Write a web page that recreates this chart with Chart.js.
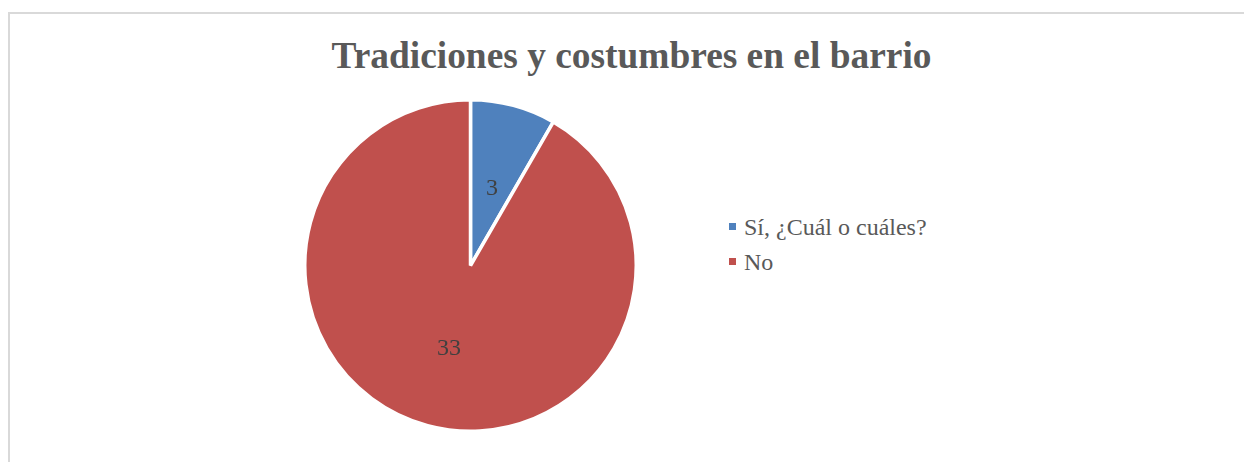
<!DOCTYPE html>
<html>
<head>
<meta charset="utf-8">
<script src="https://cdn.jsdelivr.net/npm/chart.js@4.4.1/dist/chart.umd.min.js"></script>
<style>
  html, body { margin: 0; padding: 0; background: #ffffff; }
  body { width: 1244px; height: 462px; position: relative; overflow: hidden; }
  #frame { position: absolute; left: 8px; top: 12px; width: 1300px; height: 500px; border: 2px solid #d9d9d9; box-sizing: border-box; }
  #title { position: absolute; left: 0; top: 37.2px; width: 1263px; text-align: center;
           font-family: "Liberation Serif", "Times New Roman", serif; font-weight: bold; font-size: 37.4px;
           line-height: 37.4px; color: #595959; white-space: nowrap; }
  #pie { position: absolute; left: 303px; top: 98px; }
  .lg-box { position: absolute; width: 7px; height: 7px; }
  .lg-text { position: absolute; font-family: "Liberation Serif", "Times New Roman", serif; font-size: 24px;
             line-height: 24px; color: #595959; white-space: nowrap; }
</style>
</head>
<body>
<div id="frame"></div>
<div id="title"></div>
<canvas id="pie" width="335" height="335"></canvas>
<div id="legend"></div>
<script>
const chartTitle = "Tradiciones y costumbres en el barrio";
const categories = ["Sí, ¿Cuál o cuáles?", "No"];
const values = [3, 33];
const colors = ["#4F81BD", "#C0504D"];

document.getElementById('title').textContent = chartTitle;

// Legend (HTML)
const legend = document.getElementById('legend');
categories.forEach((c, i) => {
  const box = document.createElement('div');
  box.className = 'lg-box';
  box.style.left = '729px';
  box.style.top = (223 + i * 35) + 'px';
  box.style.background = colors[i];
  legend.appendChild(box);
  const t = document.createElement('div');
  t.className = 'lg-text';
  t.style.left = '744px';
  t.style.top = (214.9 + i * 35) + 'px';
  t.textContent = c;
  legend.appendChild(t);
});

const labelPlugin = {
  id: 'sliceLabels',
  afterDatasetsDraw(chart) {
    const ctx = chart.ctx;
    const meta = chart.getDatasetMeta(0);
    ctx.save();
    ctx.font = '24px "Liberation Serif", "Times New Roman", serif';
    ctx.fillStyle = '#404040';
    ctx.textAlign = 'center';
    ctx.textBaseline = 'alphabetic';
    meta.data.forEach((arc, i) => {
      const p = arc.tooltipPosition();
      ctx.fillText(String(values[i]), p.x, p.y + 9.5);
    });
    ctx.restore();
  }
};

new Chart(document.getElementById('pie'), {
  type: 'pie',
  data: {
    labels: categories,
    datasets: [{
      data: values,
      backgroundColor: colors,
      borderColor: '#ffffff',
      borderWidth: 3.5
    }]
  },
  options: {
    responsive: false,
    animation: false,
    layout: { padding: 0 },
    plugins: {
      legend: { display: false },
      tooltip: { enabled: false },
      title: { display: false }
    }
  },
  plugins: [labelPlugin]
});
</script>
</body>
</html>
